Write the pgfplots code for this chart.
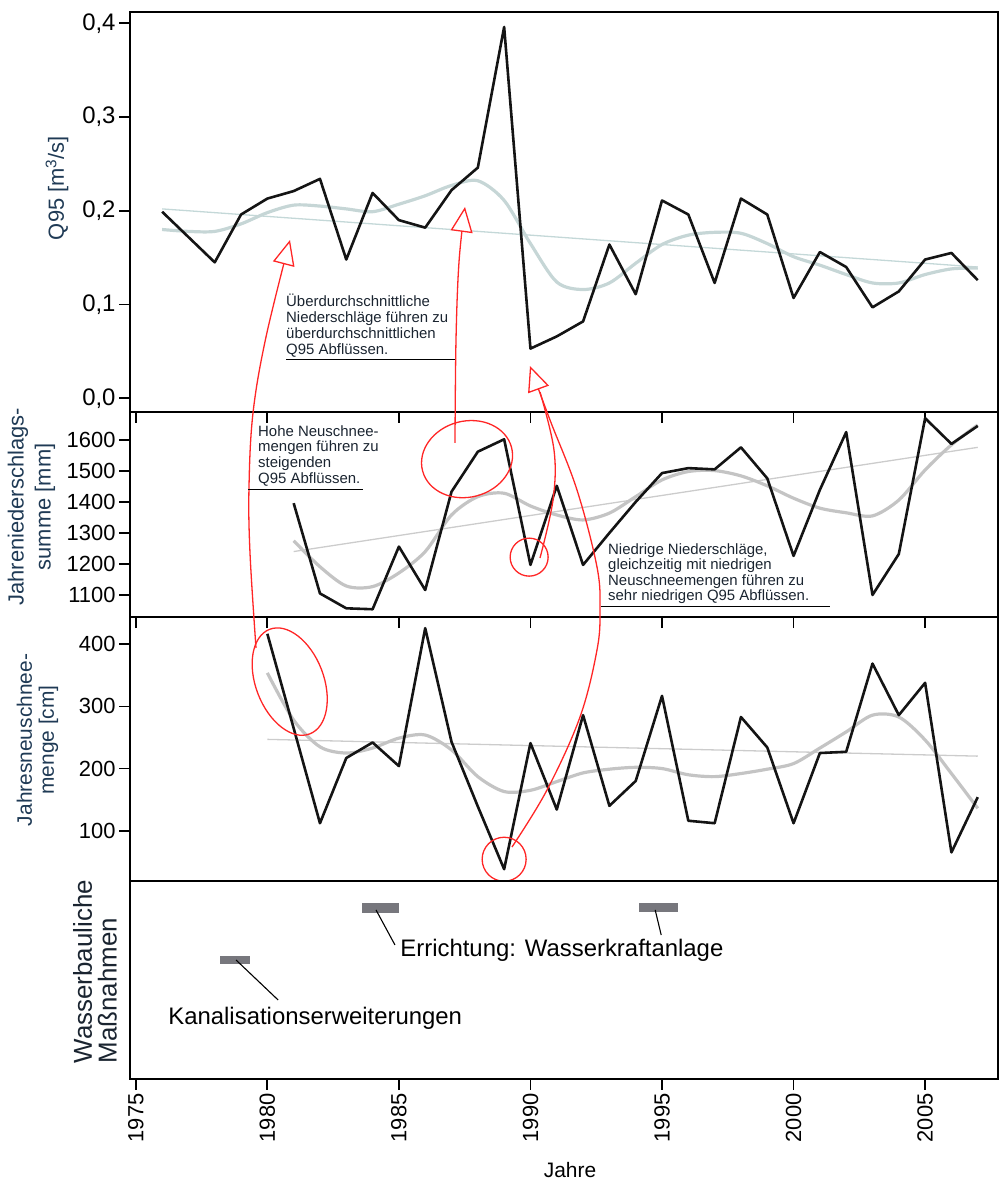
\documentclass[border=0pt]{standalone}
\usepackage{fontspec}
\setmainfont{Liberation Sans}
\usepackage{pgfplots}
\pgfplotsset{compat=1.18}
\usetikzlibrary{arrows.meta,shapes.geometric}

\definecolor{annot}{HTML}{FF2626}
\definecolor{labelc}{HTML}{1F3A55}
\definecolor{textc}{HTML}{1A2430}
\definecolor{smoothq}{HTML}{C6D6D6}
\definecolor{trendq}{HTML}{C4D8D8}
\definecolor{smoothg}{HTML}{C4C4C4}
\definecolor{trendg}{HTML}{CCCCCC}
\definecolor{barc}{HTML}{77777D}

\newcommand\fs[2]{\fontsize{#1}{#2}\selectfont}

% yearly series ---------------------------------------------------------
\pgfplotstableread{
year q95
1976 0.199
1977 0.172
1978 0.145
1979 0.196
1980 0.213
1981 0.221
1982 0.234
1983 0.148
1984 0.219
1985 0.190
1986 0.182
1987 0.222
1988 0.246
1989 0.396
1990 0.053
1991 0.066
1992 0.082
1993 0.164
1994 0.111
1995 0.211
1996 0.196
1997 0.123
1998 0.213
1999 0.196
2000 0.107
2001 0.156
2002 0.140
2003 0.097
2004 0.114
2005 0.148
2006 0.155
2007 0.126
}\qdata

\pgfplotstableread{
year q95
1976 0.180
1977 0.178
1978 0.178
1979 0.186
1980 0.198
1981 0.206
1982 0.205
1983 0.202
1984 0.199
1985 0.207
1986 0.216
1987 0.227
1988 0.232
1989 0.211
1990 0.165
1991 0.124
1992 0.116
1993 0.123
1994 0.144
1995 0.164
1996 0.174
1997 0.177
1998 0.176
1999 0.165
2000 0.151
2001 0.142
2002 0.132
2003 0.123
2004 0.123
2005 0.132
2006 0.138
2007 0.139
}\qsmooth

\pgfplotstableread{
year mm
1981 1396
1982 1105
1983 1057
1984 1054
1985 1256
1986 1116
1987 1433
1988 1562
1989 1602
1990 1197
1991 1452
1992 1197
1993 1300
1994 1400
1995 1493
1996 1509
1997 1505
1998 1576
1999 1476
2000 1226
2001 1439
2002 1625
2003 1100
2004 1232
2005 1670
2006 1587
2007 1645
}\pdata

\pgfplotstableread{
year mm
1981 1275
1982 1191
1983 1129
1984 1127
1985 1171
1986 1240
1987 1358
1988 1417
1989 1428
1990 1387
1991 1358
1992 1342
1993 1364
1994 1417
1995 1471
1996 1498
1997 1501
1998 1484
1999 1452
2000 1412
2001 1380
2002 1365
2003 1355
2004 1406
2005 1503
2006 1584
2007 1648
}\psmooth

\pgfplotstableread{
year cm
1980 417
1981 265
1982 112
1983 217
1984 242
1985 204
1986 426
1987 243
1988 139
1989 38
1990 241
1991 134
1992 286
1993 140
1994 180
1995 317
1996 116
1997 112
1998 283
1999 234
2000 112
2001 225
2002 227
2003 369
2004 286
2005 338
2006 65
2007 154
}\sdata

\pgfplotstableread{
year cm
1980 354
1981 278
1982 235
1983 225
1984 233
1985 249
1986 254
1987 230
1988 187
1989 163
1990 165
1991 179
1992 193
1993 199
1994 202
1995 200
1996 190
1997 187
1998 192
1999 199
2000 208
2001 233
2002 259
2003 286
2004 283
2005 246
2006 192
2007 136
}\ssmooth

\pgfplotsset{
  panel/.style={
    scale only axis, width=868bp,
    xmin=1974.78, xmax=2007.77,
    axis line style={line width=2.3bp, black},
    tick style={line width=1.7bp, black},
    major tick length=11bp,
    tick align=outside,
    xtick={1975,1980,...,2005},
    ytick pos=left,
    clip mode=individual,
    /pgf/number format/assume math mode=true,
    /pgf/number format/set thousands separator={},
    every tick label/.append style={text=black},
    ylabel style={anchor=center, font=\fs{22}{26}, text=labelc, align=center},
  },
  rawline/.style={line width=2.6bp, color=black!92, line join=round},
  smoothline/.style={line width=3.2bp, smooth},
  trendline/.style={line width=1.3bp},
}

\begin{document}
\begin{tikzpicture}
\useasboundingbox (0,0) rectangle (999bp,1180bp);

% ---- Q95 ---------------------------------------------------------------
\begin{axis}[panel, at={(130bp,1168bp)}, anchor=north west, height=400bp,
  ymin=-0.0146, ymax=0.412, ytick={0,0.1,0.2,0.3,0.4},
  yticklabel style={font=\fs{24}{28}, /pgf/number format/.cd, use comma, fixed, fixed zerofill, precision=1},
  xtick pos=left, xticklabels={},
  ylabel={Q95 [m\textsuperscript{3}/s]},
  ylabel style={at={(axis description cs:-0.0841,0.56)}},
]
\addplot[trendline, trendq] coordinates {(1976,0.202) (2007,0.140)};
\addplot[smoothline, smoothq] table[x=year, y=q95] {\qsmooth};
\addplot[rawline] table[x=year, y=q95] {\qdata};
\end{axis}

% ---- Jahresniederschlag ---------------------------------------------------
\begin{axis}[panel, at={(130bp,768bp)}, anchor=north west, height=205bp,
  ymin=1029, ymax=1690, ytick={1100,1200,...,1600},
  yticklabel style={font=\fs{22}{26}},
  xtick pos=left, xticklabels={},
  ylabel={Jahreniederschlags-\\summe [mm]},
  ylabel style={at={(axis description cs:-0.1135,0.537)}, font=\fs{22}{27}},
]
\addplot[trendline, trendg] coordinates {(1981,1240) (2007,1576)};
\addplot[smoothline, smoothg] table[x=year, y=mm] {\psmooth};
\addplot[rawline] table[x=year, y=mm] {\pdata};
\node[draw=annot, line width=1.3bp, ellipse, minimum width=92bp, minimum height=76bp,
      inner sep=0pt, rotate=15] at (axis cs:1987.59,1538) {};
\node[draw=annot, line width=1.3bp, circle, minimum size=38bp, inner sep=0pt]
      at (axis cs:1989.95,1222) {};
\end{axis}

% ---- Jahresneuschnee -----------------------------------------------------
\begin{axis}[panel, at={(130bp,563bp)}, anchor=north west, height=264bp,
  ymin=19, ymax=444, ytick={100,200,300,400},
  yticklabel style={font=\fs{22}{26}},
  xtick=\empty,
  ylabel={Jahresneuschnee-\\menge [cm]},
  ylabel style={at={(axis description cs:-0.1066,0.534)}, font=\fs{21}{22}},
]
\addplot[trendline, trendg] coordinates {(1980,247) (2007,220)};
\addplot[smoothline, smoothg] table[x=year, y=cm] {\ssmooth};
\addplot[rawline] table[x=year, y=cm] {\sdata};
\node[draw=annot, line width=1.3bp, ellipse, minimum width=68bp, minimum height=112bp,
      inner sep=0pt, rotate=21] at (axis cs:1980.85,340) {};
\node[draw=annot, line width=1.3bp, circle, minimum size=44bp, inner sep=0pt]
      at (axis cs:1989,54) {};
\end{axis}

% ---- Wasserbauliche Massnahmen --------------------------------------------
\begin{axis}[panel, at={(130bp,299bp)}, anchor=north west, height=198bp,
  ymin=0, ymax=1, ytick=\empty,
  xtick pos=left,
  xticklabel style={rotate=90, anchor=east, font=\fs{22}{26}},
  xlabel={Jahre},
  xlabel style={at={(axis description cs:0.5069,-0.4596)}, anchor=center, font=\fs{21}{25}, text=black},
  ylabel={Wasserbauliche\\Maßnahmen},
  ylabel style={at={(axis description cs:-0.0403,0.0606)}, anchor=west, align=left, font=\fs{26}{25}, text=textc},
]
\addplot[fill=barc, draw=none] coordinates {(1978.20,0.582) (1979.34,0.582) (1979.34,0.623) (1978.20,0.623)};
\addplot[fill=barc, draw=none] coordinates {(1983.60,0.838) (1985.01,0.838) (1985.01,0.889) (1983.60,0.889)};
\addplot[fill=barc, draw=none] coordinates {(1994.11,0.843) (1995.59,0.843) (1995.59,0.889) (1994.11,0.889)};
\addplot[black, line width=1.1bp] coordinates {(1978.81,0.601) (1980.41,0.399)};
\addplot[black, line width=1.1bp] coordinates {(1984.13,0.854) (1984.85,0.677)};
\addplot[black, line width=1.1bp] coordinates {(1994.74,0.854) (1994.97,0.727)};
\node[anchor=west, font=\fs{24}{28}, inner sep=0pt] at (axis cs:1985.05,0.652) {Errichtung: Wasserkraftanlage};
\node[anchor=west, font=\fs{24}{28}, inner sep=0pt] at (axis cs:1976.23,0.308) {Kanalisationserweiterungen};
\end{axis}

% ---- Hinweise und Pfeile ---------------------------------------------------
\begin{scope}[x=1bp, y=-1bp, shift={(0bp,1180bp)}]
  \tikzset{hint/.style={annot, line width=1.3bp},
           hinthead/.style={-{Triangle[open, length=25bp, width=22bp, fill=white]}}}
  \draw[hint, hinthead] plot[smooth, tension=0.6] coordinates
        {(256,648) (250,553) (249,487) (253,413) (266,337) (290,240)};
  \draw[hint, hinthead] plot[smooth, tension=0.6] coordinates
        {(455,443) (456,340) (459,262) (465,207)};
  \draw[hint, hinthead] plot[smooth, tension=0.6] coordinates
        {(512,847) (547,790) (580,717) (597,650) (600,610) (597,567) (577,490) (550,420) (530,366)};
  \draw[hint] plot[smooth, tension=0.6] coordinates
        {(540,558) (553,500) (554,450) (540,392)};

  \node[anchor=north west, align=left, font=\fs{15}{16}, text=textc, inner sep=0pt]
       at (286,294) {Überdurchschnittliche\\Niederschläge führen zu\\überdurchschnittlichen\\Q95 Abflüssen.};
  \draw[line width=1bp] (286,360) -- (455,360);

  \node[anchor=north west, align=left, font=\fs{15}{16}, text=textc, inner sep=0pt]
       at (258,425) {Hohe Neuschnee-\\mengen führen zu\\steigenden\\Q95 Abflüssen.};
  \draw[line width=1bp] (248,490) -- (363,490);

  \node[anchor=north west, align=left, font=\fs{15}{15.7}, text=textc, inner sep=0pt]
       at (608,543) {Niedrige Niederschläge,\\gleichzeitig mit niedrigen\\Neuschneemengen führen zu\\sehr niedrigen Q95 Abflüssen.};
  \draw[line width=1bp] (601,607) -- (830,607);
\end{scope}
\end{tikzpicture}
\end{document}
